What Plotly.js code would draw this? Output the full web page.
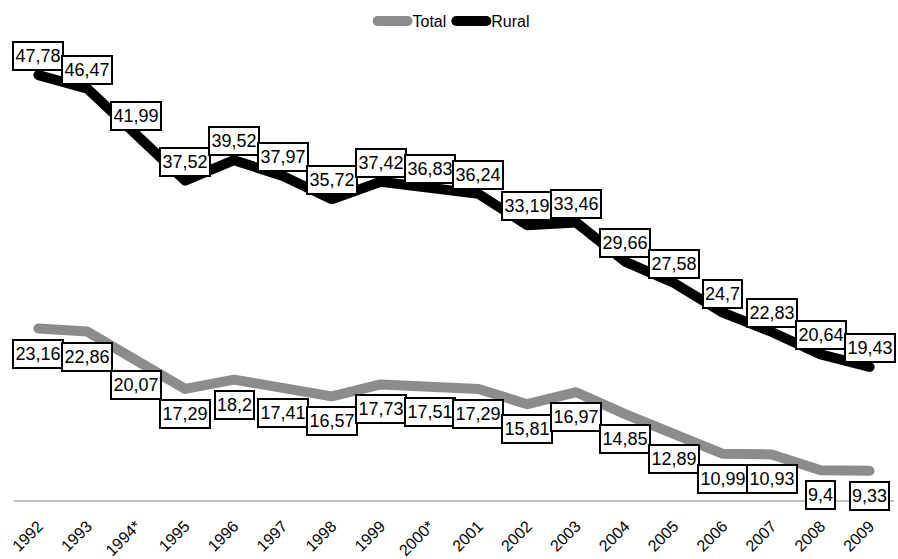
<!DOCTYPE html>
<html>
<head>
<meta charset="utf-8">
<script src="https://cdn.plot.ly/plotly-3.0.1.min.js"></script>
<style>
html,body{margin:0;padding:0;background:#fff;}
#chart{width:898px;height:559px;}
.js-line{stroke-linecap:round;stroke-linejoin:round;}
</style>
</head>
<body>
<div id="chart"></div>
<script>
const years = ["1992","1993","1994*","1995","1996","1997","1998","1999","2000*","2001","2002","2003","2004","2005","2006","2007","2008","2009"];
const total = [23.16,22.86,20.07,17.29,18.2,17.41,16.57,17.73,17.51,17.29,15.81,16.97,14.85,12.89,10.99,10.93,9.4,9.33];
const rural = [47.78,46.47,41.99,37.52,39.52,37.97,35.72,37.42,36.83,36.24,33.19,33.46,29.66,27.58,24.7,22.83,20.64,19.43];

const fmt = v => String(v).replace('.', ',');
const labelFont = {family: 'Liberation Sans, Arial, sans-serif', size: 18, color: '#000'};

const traces = [
  {x: years, y: total, name: 'Total', type: 'scatter', mode: 'lines',
   line: {color: '#8c8c8c', width: 10}, hoverinfo: 'skip'},
  {x: years, y: rural, name: 'Rural', type: 'scatter', mode: 'lines',
   line: {color: '#000000', width: 10}, hoverinfo: 'skip'}
];

function label(i, v, shift) {
  const s = fmt(v);
  return {x: i, y: v, xref: 'x', yref: 'y', text: s,
    showarrow: false, yshift: shift, font: labelFont, bgcolor: '#fff',
    bordercolor: '#000', borderwidth: 2, borderpad: 1,
    width: s.length >= 5 ? 46 : null, height: 24};
}

const annotations = [];
years.forEach((yr, i) => {
  annotations.push(label(i, rural[i], 19));
  annotations.push(label(i, total[i], -25));
});

const layout = {
  width: 898, height: 559,
  margin: {l: 14, r: 4, t: 40, b: 59},
  paper_bgcolor: '#fff', plot_bgcolor: '#fff',
  showlegend: true,
  legend: {orientation: 'h', x: 0.5, xanchor: 'center', y: 1.048, yanchor: 'middle',
    font: {family: 'Liberation Sans, Arial, sans-serif', size: 16, color: '#000'},
    itemwidth: 30, traceorder: 'normal'},
  xaxis: {type: 'category', range: [-0.5, 17.5], showgrid: false, zeroline: false,
    showline: true, linecolor: '#bfbfbf', linewidth: 1.5, ticks: '',
    tickangle: -45, ticklabelstandoff: 9,
    tickfont: {family: 'Liberation Sans, Arial, sans-serif', size: 16, color: '#000'},
    fixedrange: true},
  yaxis: {range: [6.5, 50.9], visible: false, showgrid: false, zeroline: false, fixedrange: true},
  annotations: annotations
};

Plotly.newPlot('chart', traces, layout, {displayModeBar: false, staticPlot: true});
</script>
</body>
</html>
